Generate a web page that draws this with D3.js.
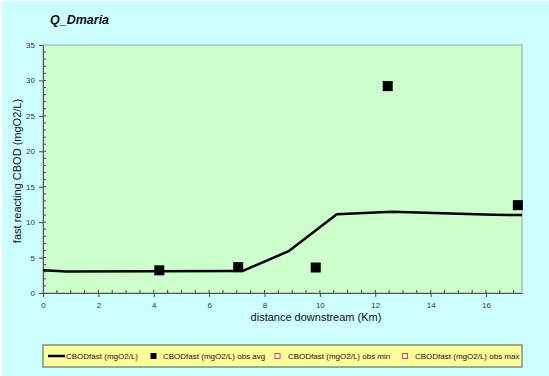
<!DOCTYPE html>
<html><head><meta charset="utf-8">
<script src="https://cdn.jsdelivr.net/npm/d3@7"></script>
<style>html,body{margin:0;padding:0;background:#fff;}svg{display:block;font-family:"Liberation Sans",Arial,sans-serif;}</style>
</head><body>
<script>
const title = "Q_Dmaria";
const xLabel = "distance downstream (Km)";
const yLabel = "fast reacting CBOD  (mgO2/L)";
const modelX = [0, 0.85, 7.2, 8.87, 10.61, 12.6, 16.26, 17.3];
const modelY = [3.2, 3.05, 3.1, 5.9, 11.1, 11.47, 11.05, 11.0];
const obsX = [4.2, 7.05, 9.85, 12.45, 17.15];
const obsY = [3.2, 3.65, 3.6, 29.2, 12.4];
const xTicks = [0, 2, 4, 6, 8, 10, 12, 14, 16];
const yTicks = [0, 5, 10, 15, 20, 25, 30, 35];
const legendLabels = ["CBODfast (mgO2/L)", "CBODfast (mgO2/L) obs avg", "CBODfast (mgO2/L) obs min", "CBODfast (mgO2/L) obs max"];

const W = 549, H = 376;
const svg = d3.select("body").append("svg").attr("width", W).attr("height", H);
svg.append("rect").attr("x", 2).attr("y", 1).attr("width", W - 2).attr("height", H - 1).attr("fill", "#ccffff");

const L = 43, R = 522, T = 45, B = 293;
const x = d3.scaleLinear().domain([0, 17.3]).range([L, R]);
const y = d3.scaleLinear().domain([0, 35]).range([B, T]);

svg.append("rect").attr("x", L).attr("y", T).attr("width", R - L).attr("height", B - T)
  .attr("fill", "#ccffcc").attr("stroke", "#a0a0a0").attr("stroke-width", 1);

// minor ticks
const g = svg.append("g");
g.selectAll(".xm").data(d3.range(0.5, 17.3, 0.5)).enter().append("line")
  .attr("x1", d => x(d)).attr("x2", d => x(d)).attr("y1", B).attr("y2", B - 3)
  .attr("stroke", "#444");
g.selectAll(".ym").data(d3.range(1, 35, 1)).enter().append("line")
  .attr("y1", d => y(d)).attr("y2", d => y(d)).attr("x1", L).attr("x2", L + 3)
  .attr("stroke", "#444");

const xAxis = svg.append("g").attr("transform", `translate(0,${B})`)
  .call(d3.axisBottom(x).tickValues(xTicks).tickSize(4).tickSizeOuter(0).tickPadding(5));
const yAxis = svg.append("g").attr("transform", `translate(${L},0)`)
  .call(d3.axisLeft(y).tickValues(yTicks).tickSize(4).tickSizeOuter(0).tickPadding(4));
[xAxis, yAxis].forEach(a => {
  a.select(".domain").attr("stroke", "#555");
  a.selectAll(".tick line").attr("stroke", "#444");
  a.selectAll(".tick text").attr("font-size", 8).attr("fill", "#333").attr("font-family", "Liberation Sans, Arial");
});

// model line
const line = d3.line().x(d => x(d[0])).y(d => y(d[1]));
svg.append("path").datum(d3.zip(modelX, modelY)).attr("d", line)
  .attr("fill", "none").attr("stroke", "#000").attr("stroke-width", 2.5).attr("stroke-linejoin", "round");

// obs
svg.selectAll(".obs").data(d3.zip(obsX, obsY)).enter().append("rect")
  .attr("x", d => x(d[0]) - 5).attr("y", d => y(d[1]) - 5).attr("width", 10).attr("height", 10)
  .attr("fill", "#000");

// texts
svg.append("text").attr("x", 50).attr("y", 24).attr("font-size", 12.5).attr("font-weight", "bold")
  .attr("font-style", "italic").attr("fill", "#111").text(title);
svg.append("text").attr("x", 316).attr("y", 321).attr("text-anchor", "middle").attr("font-size", 11)
  .attr("fill", "#111").text(xLabel);
svg.append("text").attr("transform", `translate(21,${(T + B) / 2 + 2}) rotate(-90)`).attr("text-anchor", "middle")
  .attr("font-size", 11).attr("fill", "#111").text(yLabel);

// legend
const lg = svg.append("g");
lg.append("rect").attr("x", 43).attr("y", 345).attr("width", 479).attr("height", 22)
  .attr("fill", "#ffff99").attr("stroke", "#555").attr("stroke-width", 1);
const ly = 356;
const lx = [66, 163, 288, 415];
lg.append("line").attr("x1", 48).attr("x2", 65).attr("y1", ly).attr("y2", ly).attr("stroke", "#000").attr("stroke-width", 2.5);
lg.append("rect").attr("x", 150.5).attr("y", ly - 3).attr("width", 6).attr("height", 6).attr("fill", "#000");
lg.append("rect").attr("x", 275).attr("y", ly - 2.5).attr("width", 5).attr("height", 5).attr("fill", "#fff").attr("stroke", "#e04040");
lg.append("rect").attr("x", 402.5).attr("y", ly - 2.5).attr("width", 5).attr("height", 5).attr("fill", "#fff").attr("stroke", "#e04040");
lg.selectAll(".lt").data(legendLabels).enter().append("text")
  .attr("x", (d, i) => lx[i]).attr("y", ly + 3).attr("font-size", 8).attr("fill", "#111").text(d => d);
</script>
</body></html>
